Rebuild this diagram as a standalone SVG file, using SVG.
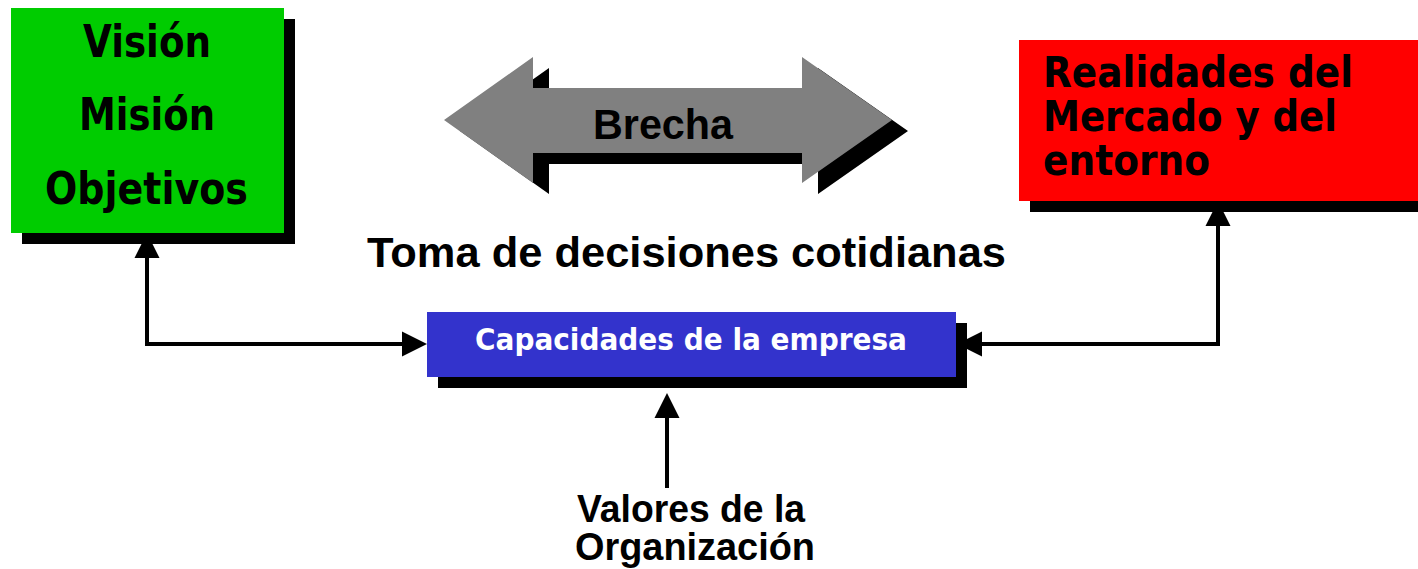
<svg xmlns="http://www.w3.org/2000/svg" width="1418" height="569" viewBox="0 0 1418 569">
<style>
.shadow{fill:#000000}
.tah{font-family:"DejaVu Sans","Liberation Sans",sans-serif;font-weight:bold;fill:#000000}
.ari{font-family:"Liberation Sans",Arial,sans-serif;font-weight:bold;fill:#000000}
.conn{fill:none;stroke:#000000;stroke-width:4}
</style>
<defs>
<marker id="ah" markerUnits="userSpaceOnUse" markerWidth="26" markerHeight="26" refX="0" refY="12.5" orient="auto-start-reverse" viewBox="0 0 26 25" overflow="visible">
<path d="M0,0 L25,12.5 L0,25 Z" fill="#000000"/>
</marker>
</defs>
<rect width="1418" height="569" fill="#ffffff"/>
<g id="connectors">
<path class="conn" d="M402,344 H147 V258" marker-start="url(#ah)" marker-end="url(#ah)"/>
<path class="conn" d="M982,344 H1218 V226" marker-start="url(#ah)" marker-end="url(#ah)"/>
<path class="conn" d="M667,488 V418" marker-end="url(#ah)"/>
</g>
<g id="vision">
<rect class="shadow" x="22" y="19" width="273" height="225"/>
<rect x="11" y="8" width="273" height="225" fill="#00CC00"/>
<text class="tah" font-size="44" x="83" y="57" textLength="128" lengthAdjust="spacingAndGlyphs">Visión</text>
<text class="tah" font-size="44" x="79" y="130" textLength="136" lengthAdjust="spacingAndGlyphs">Misión</text>
<text class="tah" font-size="44" x="45" y="204" textLength="203" lengthAdjust="spacingAndGlyphs">Objetivos</text>
</g>
<g id="brecha">
<polygon class="shadow" transform="translate(16,11)" points="444,120 533,57 533,88 802,88 802,57 892,120 802,183 802,153 533,153 533,183"/>
<polygon fill="#808080" points="444,120 533,57 533,88 802,88 802,57 892,120 802,183 802,153 533,153 533,183"/>
<text class="ari" font-size="42" x="593" y="139" textLength="140" lengthAdjust="spacingAndGlyphs">Brecha</text>
</g>
<g id="realidades">
<rect class="shadow" x="1030" y="51" width="388" height="161"/>
<rect x="1019" y="40" width="399" height="161" fill="#FF0000"/>
<text class="tah" font-size="43"><tspan x="1043" y="87" textLength="310" lengthAdjust="spacingAndGlyphs">Realidades del</tspan><tspan x="1043" y="131" textLength="294" lengthAdjust="spacingAndGlyphs">Mercado y del</tspan><tspan x="1043" y="175" textLength="167" lengthAdjust="spacingAndGlyphs">entorno</tspan></text>
</g>
<g id="toma">
<text class="ari" font-size="42" x="367" y="267" textLength="639" lengthAdjust="spacingAndGlyphs">Toma de decisiones cotidianas</text>
</g>
<g id="capacidades">
<rect class="shadow" x="438" y="323" width="529" height="65"/>
<rect x="427" y="312" width="529" height="65" fill="#3333CC"/>
<text class="tah" font-size="30" x="475" y="350" textLength="432" lengthAdjust="spacingAndGlyphs" style="fill:#ffffff">Capacidades de la empresa</text>
</g>
<g id="valores">
<text class="ari" font-size="38"><tspan x="577" y="522" textLength="228" lengthAdjust="spacingAndGlyphs">Valores de la</tspan><tspan x="575" y="560" textLength="240" lengthAdjust="spacingAndGlyphs">Organización</tspan></text>
</g>
</svg>
